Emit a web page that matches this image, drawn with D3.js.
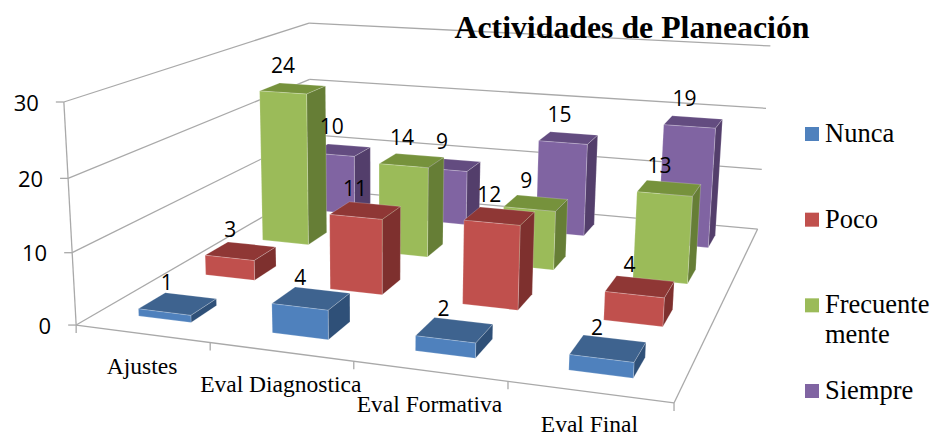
<!DOCTYPE html>
<html><head><meta charset="utf-8">
<style>html,body{margin:0;padding:0;background:#fff}svg{display:block}</style>
<script src="https://cdnjs.cloudflare.com/ajax/libs/d3/7.8.5/d3.min.js"></script>
</head><body><svg id="c" width="932" height="437"></svg>
<script>
const categories = ["Ajustes","Eval Diagnostica","Eval Formativa","Eval Final"];
const seriesNames = ["Nunca","Poco","Frecuentemente","Siempre"];
const legendLines = [["Nunca"],["Poco"],["Frecuente","mente"],["Siempre"]];
const nunca = [1,4,2,2];
const poco = [3,11,12,4];
const frecuente = [24,14,9,13];
const siempre = [10,9,15,19];
const seriesValues = [nunca,poco,frecuente,siempre];
const yTicks = [0,10,20,30];
const faceColors = ["#4F81BD","#C0504D","#9BBB59","#8064A2"];
const topColors  = ["#3E638F","#8F3735","#76923C","#634C80"];
const sideColors = ["#2F5078","#7E302E","#667E36","#533E6B"];

const svg = d3.select("#c");
const serif = "'Liberation Serif','Times New Roman',serif";
const sans = "'Open Sans',sans-serif";

// camera calibration: box corners (u,v,w in 0..1) to the page
const calib = [
 [0,0,0, 77,325],[1,0,0, 674,403],[1,1,0, 758,229],[0,1,0, 310,189],
 [0,0,1, 63,102],[1,1,1, 770,46],[0,1,1, 310,23]];
function solve(A,b){const n=b.length;A=A.map((r,i)=>[...r,b[i]]);
 for(let i=0;i<n;i++){let m=i;for(let k=i+1;k<n;k++)if(Math.abs(A[k][i])>Math.abs(A[m][i]))m=k;
  [A[i],A[m]]=[A[m],A[i]];
  for(let k=i+1;k<n;k++){const f=A[k][i]/A[i][i];for(let j=i;j<=n;j++)A[k][j]-=f*A[i][j];}}
 const x=Array(n).fill(0);for(let i=n-1;i>=0;i--){let s=A[i][n];for(let j=i+1;j<n;j++)s-=A[i][j]*x[j];x[i]=s/A[i][i];}return x;}
const rows=[],rhs=[];
calib.forEach(([u,v,w,X,Y])=>{
 rows.push([u,v,w,1,0,0,0,0,-u*X,-v*X,-w*X]);rhs.push(X);
 rows.push([0,0,0,0,u,v,w,1,-u*Y,-v*Y,-w*Y]);rhs.push(Y);});
const AtA=d3.range(11).map(i=>d3.range(11).map(j=>d3.sum(rows,r=>r[i]*r[j])));
const Atb=d3.range(11).map(i=>d3.sum(rows,(r,k)=>r[i]*rhs[k]));
const P=solve(AtA,Atb);
function proj(u,v,w){const d=P[8]*u+P[9]*v+P[10]*w+1;
 return [(P[0]*u+P[1]*v+P[2]*w+P[3])/d,(P[4]*u+P[5]*v+P[6]*w+P[7])/d];}

const x = d3.scaleBand().domain(categories).range([0,1]).paddingInner(0.6).paddingOuter(0.3);
const xOuter = d3.scaleBand().domain(categories).range([0,1]);
const z = d3.scaleBand().domain(seriesNames).range([0,1]).paddingInner(0.62).paddingOuter(0.31);
const y = d3.scaleLinear().domain([0,30]).range([0,1]);
const gridColor="#A9A9A9";
const line=d3.line();
const poly=pts=>line(pts)+"Z";
const seg=(a,b,sw)=>svg.append("path").attr("d",line([a,b])).attr("stroke",gridColor).attr("stroke-width",sw||1.3).attr("fill","none");

// walls
yTicks.forEach(t=>{const w=y(t);
 seg(proj(0,0,w),proj(0,1,w));
 seg(proj(0,1,w),proj(1,1,w));
 const a=proj(0,0,w); seg(a,[a[0]-8,a[1]]);
 svg.append("text").attr("x",a[0]-25).attr("y",a[1]+8.5).attr("text-anchor","end")
  .attr("font-family",sans).attr("font-size",22).attr("fill","#000").text(t);
});
seg(proj(0,0,0),proj(0,0,1));
seg(proj(0,0,0),proj(1,0,0));
seg(proj(1,0,0),proj(1,1,0));
d3.range(5).forEach(i=>{const a=proj(i/4,0,0);seg(a,[a[0],a[1]+8]);});

// bars back to front
const labels=[];
d3.range(3,-1,-1).forEach(s=>{
 categories.forEach((c,i)=>{
  const val=seriesValues[s][i];
  const u0=x(c),u1=u0+x.bandwidth(),v0=z(seriesNames[s]),v1=v0+z.bandwidth(),h=y(val);
  const g=svg.append("g").attr("stroke","#fff").attr("stroke-opacity",0.25).attr("stroke-width",0.8).attr("stroke-linejoin","round");
  g.append("path").attr("d",poly([proj(u0,v0,h),proj(u1,v0,h),proj(u1,v1,h),proj(u0,v1,h)])).attr("fill",topColors[s]);
  g.append("path").attr("d",poly([proj(u1,v0,0),proj(u1,v1,0),proj(u1,v1,h),proj(u1,v0,h)])).attr("fill",sideColors[s]);
  g.append("path").attr("d",poly([proj(u0,v0,0),proj(u1,v0,0),proj(u1,v0,h),proj(u0,v0,h)])).attr("fill",faceColors[s]);
  labels.push({val,s,p:proj((u0+u1)/2,(v0+v1)/2,h)});
 });
});
labels.forEach(l=>svg.append("text").attr("x",l.p[0]-9-(3-l.s)*0.7).attr("y",l.p[1]-13.5-l.s*0.8).attr("text-anchor","middle")
  .attr("font-family",sans).attr("font-size",21).attr("fill","#000").text(l.val));

// category labels
categories.forEach(c=>{const p=proj(xOuter(c)+xOuter.bandwidth()/2,0,0);
 svg.append("text").attr("x",p[0]).attr("y",p[1]+40.5).attr("text-anchor","middle")
  .attr("font-family",serif).attr("font-size",23.5).attr("fill","#000").text(c);});

// title
svg.append("text").attr("x",632).attr("y",38).attr("text-anchor","middle")
 .attr("font-family",serif).attr("font-weight","bold").attr("font-size",31.8).attr("fill","#000").text("Actividades de Planeación");

// legend
const legendY=d3.scalePoint().domain(seriesNames).range([134,391]);
seriesNames.forEach((n,i)=>{const cy=legendY(n);
 svg.append("rect").attr("x",805).attr("y",cy-7).attr("width",14).attr("height",14).attr("fill",faceColors[i]);
 legendLines[i].forEach((t,j)=>svg.append("text").attr("x",825).attr("y",cy+8+j*30)
  .attr("font-family",serif).attr("font-size",26.5).attr("fill","#000").text(t));});
</script></body></html>
